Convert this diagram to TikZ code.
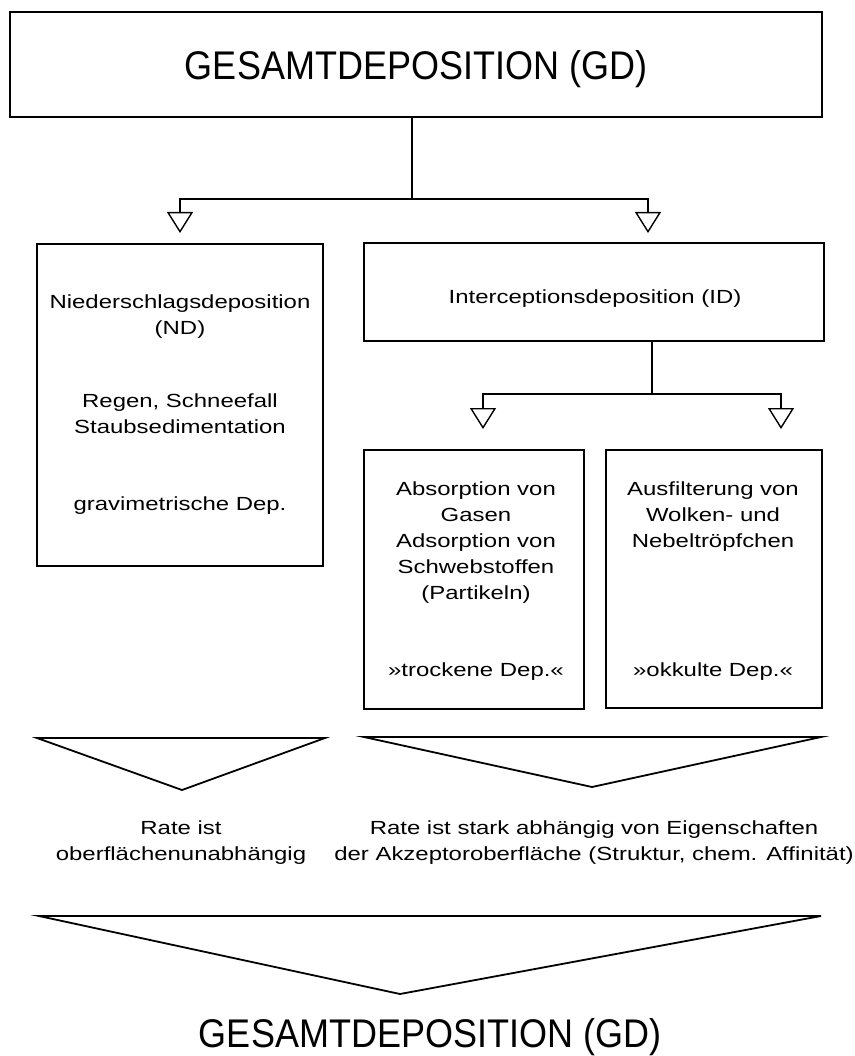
\documentclass[tikz,border=0pt]{standalone}
\usepackage{fontspec}
\setmainfont{Liberation Sans}
\newfontfamily\titlefont[FakeStretch=0.9]{Liberation Sans}
\newfontfamily\bodyfont[FakeStretch=1.26]{Liberation Sans}
\usetikzlibrary{arrows.meta}
\begin{document}
\begin{tikzpicture}[x=1pt,y=-1pt,
  box/.style={draw, line width=1.6pt, inner sep=0pt},
  conn/.style={line width=1.4pt},
  tip/.style={-{Triangle[open,width=26pt,length=21pt,line width=1.4pt]}},
  funnel/.style={line width=1.8pt, line join=miter},
  ttl/.style={font={\titlefont\fontsize{40}{44}\selectfont}, inner sep=0pt, anchor=base},
  txt/.style={font={\bodyfont\fontsize{19}{26}\selectfont}, align=center, inner sep=0pt, anchor=base}]
\useasboundingbox[fill=white] (0,0) rectangle (854,1056);

% boxes
\node[box, minimum width=812pt, minimum height=105pt] (gd) at (416,64.5) {};
\node[box, minimum width=286pt, minimum height=322pt] (nd) at (180,405) {};
\node[box, minimum width=460pt, minimum height=98pt] (id) at (594,292) {};
\node[box, minimum width=220pt, minimum height=259pt] (ab) at (474,579.5) {};
\node[box, minimum width=216pt, minimum height=258pt] (au) at (714,579) {};

% texts (anchor=base of a multi-line node = baseline of its last line)
\node[ttl] (gdt) at (416,80) {GESAMTDEPOSITION (GD)};
\node[txt] (ndt1) at (180,334) {Niederschlagsdeposition\\(ND)};
\node[txt] (ndt2) at (180,433) {Regen, Schneefall\\Staubsedimentation};
\node[txt] (ndt3) at (180,510) {gravimetrische Dep.};
\node[txt] (idt) at (595,303) {Interceptionsdeposition (ID)};
\node[txt] (abt1) at (476,599) {Absorption von\\Gasen\\Adsorption von\\Schwebstoffen\\(Partikeln)};
\node[txt] (abt2) at (476,676) {»trockene Dep.«};
\node[txt] (aut1) at (713,547) {Ausfilterung von\\Wolken- und\\Nebeltröpfchen};
\node[txt] (aut2) at (713,676) {»okkulte Dep.«};
\node[txt] (r1) at (181,860) {Rate ist\\oberflächenunabhängig};
\node[txt] (r2) at (594,860) {Rate ist stark abhängig von Eigenschaften\\der Akzeptoroberfläche (Struktur, chem. Affinität)};
\node[ttl] (gdb) at (430,1047) {GESAMTDEPOSITION (GD)};

% connectors level 1
\coordinate (j1) at (412,199);
\coordinate (a1) at (180,233);
\coordinate (a2) at (648,233);
\draw[conn] (gd.south -| j1) -- (j1);
\draw[conn, tip] (j1) -| (a1);
\draw[conn, tip] (j1) -| (a2);

% connectors level 2
\coordinate (j2) at (652,394);
\coordinate (b1) at (483,429);
\coordinate (b2) at (781,429);
\draw[conn] (id.south -| j2) -- (j2);
\draw[conn, tip] (j2) -| (b1);
\draw[conn, tip] (j2) -| (b2);

% funnels
\draw[funnel] (37,738) -- (325,738) -- (182,790) -- cycle;
\draw[funnel] (364,737) -- (821,737) -- (592,787) -- cycle;
\draw[funnel] (39,916) -- (821,916) -- (400,994) -- cycle;
\end{tikzpicture}
\end{document}
